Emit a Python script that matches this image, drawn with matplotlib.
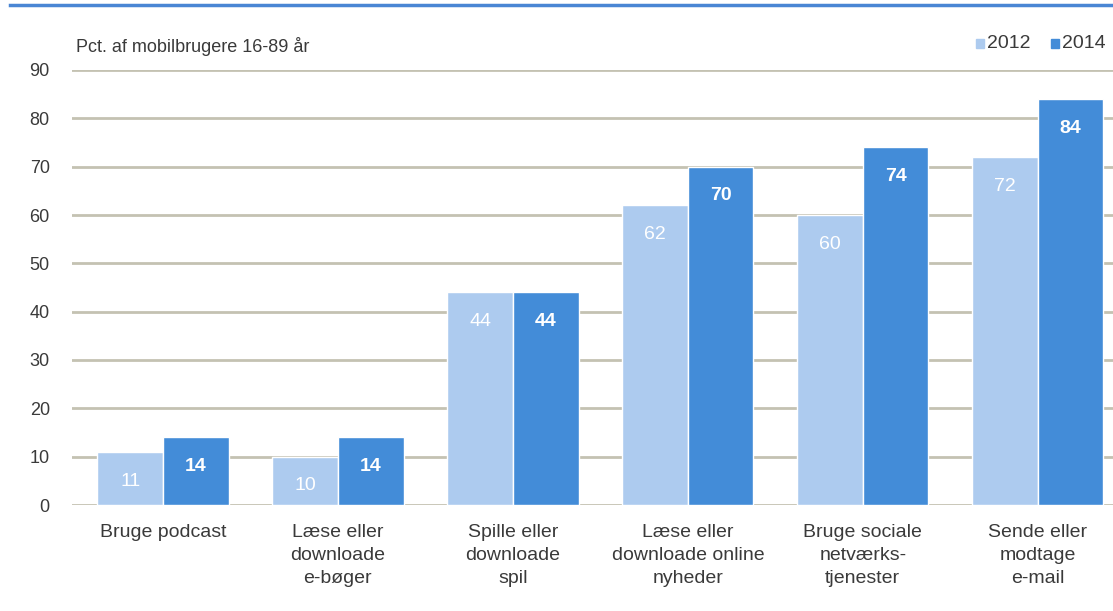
import matplotlib
matplotlib.use("Agg")
import matplotlib.pyplot as plt
import numpy as np

plt.rcParams["font.family"] = ["Liberation Sans", "DejaVu Sans"]

categories = ["Bruge podcast", "Læse eller\ndownloade\ne-bøger", "Spille eller\ndownloade\nspil",
              "Læse eller\ndownloade online\nnyheder", "Bruge sociale\nnetværks-\ntjenester",
              "Sende eller\nmodtage\ne-mail"]
years = ["2012", "2014"]
v2012 = [11, 10, 44, 62, 60, 72]
v2014 = [14, 14, 44, 70, 74, 84]
yticks = list(range(0, 100, 10))

C12 = "#adcbef"
C14 = "#438cd8"
GRID = "#c4c2b2"
TXT = "#3a3a3a"

fig = plt.figure(figsize=(11.13, 6.11), dpi=100)
ax = fig.add_axes([72 / 1113, 1 - 505 / 611, 1 - 72 / 1113, (505 - 70) / 611])

x = np.arange(len(categories))
w = 0.375
b1 = ax.bar(x - w / 2, v2012, w, color=C12, edgecolor="white", lw=1, zorder=3)
b2 = ax.bar(x + w / 2, v2014, w, color=C14, edgecolor="white", lw=1, zorder=3)

for bars, vals, wt in ((b1, v2012, "normal"), (b2, v2014, "bold")):
    for b, v in zip(bars, vals):
        ax.annotate(str(v), (b.get_x() + b.get_width() / 2, v), xytext=(0, -21),
                    textcoords="offset points", ha="center", va="center",
                    color="white", fontsize=14, fontweight=wt, zorder=4)

ax.set_xlim(-0.52, 5.43)
ax.set_ylim(0, 90)
ax.set_yticks(yticks)
ax.set_xticks(x)
ax.set_xticklabels(categories, fontsize=14, color=TXT, linespacing=1.45, va="top")
ax.tick_params(axis="y", labelsize=13, labelcolor=TXT, length=0, pad=16)
ax.tick_params(axis="x", length=0, pad=14)
for t in yticks:
    ax.axhline(t, color=GRID, lw=2, zorder=1)
for s in ax.spines.values():
    s.set_visible(False)

fig.text(76 / 1113, 1 - 47 / 611, "Pct. af mobilbrugere 16-89 år", fontsize=13,
         color=TXT, va="center", ha="left")

# legend squares and labels, tucked in against the right edge
lx = [976, 1051]
for px, yr, c in zip(lx, years, [C12, C14]):
    fig.patches.append(plt.Rectangle((px / 1113, 1 - 48 / 611), 8 / 1113, 9 / 611,
                                     transform=fig.transFigure, color=c))
    fig.text((px + 11) / 1113, 1 - 44 / 611, yr, fontsize=14, color=TXT,
             va="center", ha="left")

fig.add_artist(plt.Line2D([10 / 1113, 1], [1 - 5 / 611] * 2, color="#4a86d4", lw=2.5,
                          transform=fig.transFigure))

fig.savefig("out.png", dpi=100, facecolor="white")
